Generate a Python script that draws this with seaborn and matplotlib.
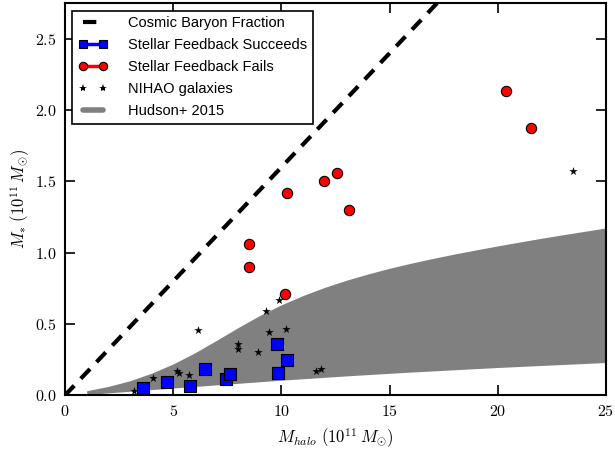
import numpy as np
import pandas as pd
import matplotlib
matplotlib.use("Agg")
import matplotlib.pyplot as plt
from matplotlib.lines import Line2D
import seaborn as sns

# Stellar mass vs halo mass, both in units of 1e11 Msun
succeed_mhalo = [3.62, 4.73, 5.78, 6.47, 7.43, 7.61, 9.78, 10.24, 9.86]
succeed_mstar = [0.049, 0.091, 0.067, 0.182, 0.112, 0.147, 0.360, 0.250, 0.154]

fail_mhalo = [20.38, 21.53, 12.56, 11.97, 10.24, 13.14, 8.52, 8.52, 10.17]
fail_mstar = [2.136, 1.877, 1.559, 1.502, 1.417, 1.297, 1.059, 0.902, 0.712]

nihao_mhalo = [3.21, 3.71, 4.05, 5.16, 5.27, 5.73, 6.13, 7.99, 7.99, 8.92,
               9.30, 9.43, 9.90, 10.21, 11.60, 11.82, 23.47]
nihao_mstar = [0.032, 0.072, 0.121, 0.167, 0.158, 0.140, 0.460, 0.360, 0.323, 0.307,
               0.590, 0.445, 0.665, 0.466, 0.172, 0.183, 1.576]

# Hudson+ 2015 stellar-to-halo mass band
hudson_mhalo = [1, 2, 3, 4, 5, 6, 7, 8, 9, 10, 11, 12, 13, 14, 15, 16, 17, 18,
                19, 20, 21, 22, 23, 24, 25]
hudson_upper = [0.032, 0.062, 0.102, 0.155, 0.220, 0.298, 0.385, 0.475, 0.560, 0.635,
                0.700, 0.757, 0.807, 0.851, 0.891, 0.927, 0.960, 0.991, 1.020, 1.048,
                1.075, 1.101, 1.126, 1.150, 1.174]
hudson_lower = [0.004, 0.017, 0.028, 0.040, 0.051, 0.062, 0.073, 0.084, 0.095, 0.106,
                0.116, 0.126, 0.136, 0.145, 0.154, 0.163, 0.171, 0.179, 0.187, 0.195,
                0.202, 0.209, 0.216, 0.223, 0.230]

# cosmic baryon fraction line
baryon_fraction = 0.16
baryon_mhalo = [0.0, 25.0]

x_ticks = [0, 5, 10, 15, 20, 25]
y_ticks = [0.0, 0.5, 1.0, 1.5, 2.0, 2.5]

sns.set_style("ticks")
plt.rcParams["mathtext.fontset"] = "cm"
plt.rcParams["font.family"] = ["Liberation Sans", "DejaVu Sans"]
plt.rcParams["text.color"] = "black"
plt.rcParams["axes.labelcolor"] = "black"
plt.rcParams["xtick.color"] = "black"
plt.rcParams["ytick.color"] = "black"

fig = plt.figure(figsize=(6.15, 4.5), dpi=100)
ax = fig.add_axes([0.1057, 0.1216, 0.8797, 0.8711])

ax.fill_between(hudson_mhalo, hudson_lower, hudson_upper, color="#808080",
                linewidth=0, zorder=1)

baryon = pd.DataFrame({"mhalo": baryon_mhalo,
                       "mstar": [baryon_fraction * m for m in baryon_mhalo]})
sns.lineplot(data=baryon, x="mhalo", y="mstar", ax=ax, color="black",
             linewidth=3, dashes=False, zorder=2, legend=False)
ax.lines[-1].set_dashes((3.2, 2.3))

nihao = pd.DataFrame({"mhalo": nihao_mhalo, "mstar": nihao_mstar})
sns.scatterplot(data=nihao, x="mhalo", y="mstar", ax=ax, marker="*",
                color="black", s=40, linewidth=0, zorder=3, legend=False)

succ = pd.DataFrame({"mhalo": succeed_mhalo, "mstar": succeed_mstar})
sns.scatterplot(data=succ, x="mhalo", y="mstar", ax=ax, marker="s",
                color="#0000ff", edgecolor="black", s=70, linewidth=0.8,
                zorder=4, legend=False)

fail = pd.DataFrame({"mhalo": fail_mhalo, "mstar": fail_mstar})
sns.scatterplot(data=fail, x="mhalo", y="mstar", ax=ax, marker="o",
                color="#ff0000", edgecolor="black", s=55, linewidth=0.8,
                zorder=4, legend=False)

ax.set_xlim(0, 25)
ax.set_ylim(0, 2.75)
ax.set_xticks(x_ticks)
ax.set_xticklabels([f"${t}$" for t in x_ticks])
ax.set_yticks(y_ticks)
ax.set_yticklabels([f"${t:.1f}$" for t in y_ticks])
ax.tick_params(direction="in", length=7, width=1.2, top=True, right=True,
               labelsize=11.5, pad=6, colors="black")
for sp in ax.spines.values():
    sp.set_linewidth(1.5)
    sp.set_color("black")
    sp.set_visible(True)

ax.set_xlabel(r"$M_{halo}\ (10^{11}\,M_{\odot})$", fontsize=12, labelpad=6)
ax.set_ylabel(r"$M_{*}\ (10^{11}\,M_{\odot})$", fontsize=12, labelpad=2)

handles = [
    Line2D([], [], color="black", linewidth=3, linestyle=(0, (3.2, 2.3))),
    Line2D([], [], color="#0000ff", linewidth=2.5, marker="s", markersize=6,
           markerfacecolor="#0000ff", markeredgecolor="black", markeredgewidth=0.8),
    Line2D([], [], color="#ff0000", linewidth=2.5, marker="o", markersize=6,
           markerfacecolor="#ff0000", markeredgecolor="black", markeredgewidth=0.8),
    Line2D([], [], color="black", linestyle="none", marker="*", markersize=6,
           markeredgewidth=0),
    Line2D([], [], color="#808080", linewidth=4),
]
labels = ["Cosmic Baryon Fraction", "Stellar Feedback Succeeds",
          "Stellar Feedback Fails", "NIHAO galaxies", "Hudson+ 2015"]
leg = ax.legend(handles, labels, loc="upper left", numpoints=2, fontsize=10.5,
                frameon=True, fancybox=False, framealpha=1, edgecolor="black",
                handlelength=2.0, labelspacing=0.55, borderaxespad=0.5,
                borderpad=0.4, handletextpad=1.4)
leg.get_frame().set_linewidth(1.2)
for t in leg.get_texts():
    t.set_color("black")

fig.savefig("out.png", dpi=100)
